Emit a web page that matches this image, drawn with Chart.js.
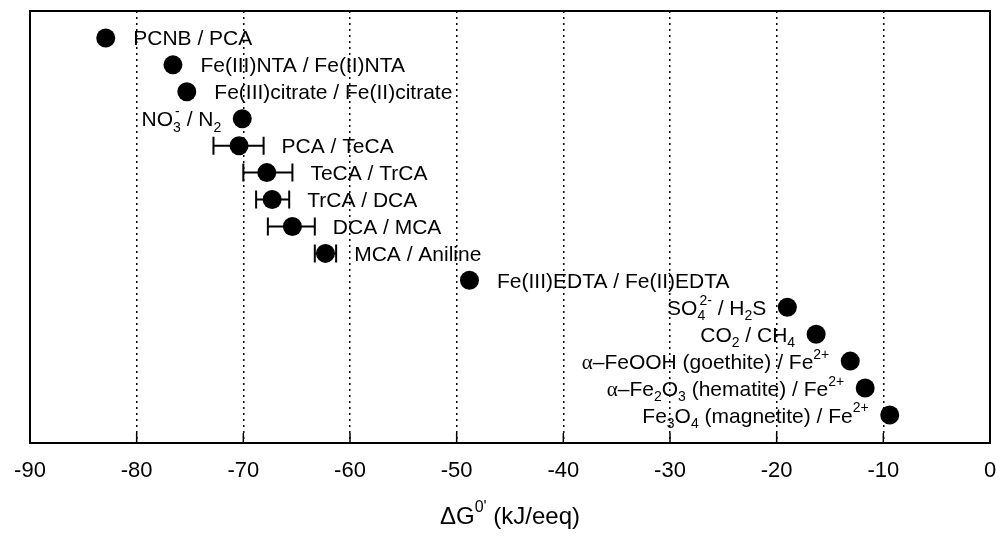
<!DOCTYPE html>
<html>
<head>
<meta charset="utf-8">
<script src="https://cdn.jsdelivr.net/npm/chart.js@4.4.1/dist/chart.umd.min.js"></script>
<style>
  html, body { margin: 0; padding: 0; background: #fff; }
  #wrap { width: 1000px; height: 538px; }
</style>
</head>
<body>
<div id="wrap"><canvas id="gibbsChart"></canvas></div>
<script>
// couples, in order from top to bottom
const coupleLabels = [
    "PCNB / PCA",
    "Fe(III)NTA / Fe(II)NTA",
    "Fe(III)citrate / Fe(II)citrate",
    "NO_{3}^{-} / N_{2}",
    "PCA / TeCA",
    "TeCA / TrCA",
    "TrCA / DCA",
    "DCA / MCA",
    "MCA / Aniline",
    "Fe(III)EDTA / Fe(II)EDTA",
    "SO_{4}^{2-} / H_{2}S",
    "CO_{2} / CH_{4}",
    "α–FeOOH (goethite) / Fe^{2+}",
    "α–Fe_{2}O_{3} (hematite) / Fe^{2+}",
    "Fe_{3}O_{4} (magnetite) / Fe^{2+}"
];
// deltaG0' in kJ per electron equivalent
const deltaG = [-82.9, -76.6, -75.3, -70.1, -70.4, -67.8, -67.3, -65.4, -62.3, -48.8, -19.0, -16.3, -13.1, -11.7, -9.4];
// error bar ends (null = no error bar)
const errLow  = [null, null, null, null, -72.8, -70.0, -68.8, -67.7, -63.3, null, null, null, null, null, null];
const errHigh = [null, null, null, null, -68.1, -65.4, -65.7, -63.3, -61.3, null, null, null, null, null, null];
// which side the label sits on
const labelSide = ["r", "r", "r", "l", "r", "r", "r", "r", "r", "r", "l", "l", "l", "l", "l"];
const xTicks = [-90, -80, -70, -60, -50, -40, -30, -20, -10, 0];

const SANS = '"Liberation Sans", Arial, sans-serif';
const SERIF = '"Liberation Serif", "Times New Roman", serif';
const BASE = 21, SMALL = 14;

// split "NO_{3}^{-}" style markup into segments
function parseRich(text) {
    const segs = [];
    let i = 0, buf = "";
    while (i < text.length) {
        const c = text[i];
        if ((c === "_" || c === "^") && text[i + 1] === "{") {
            if (buf) { segs.push({ t: buf, k: "n" }); buf = ""; }
            const end = text.indexOf("}", i);
            segs.push({ t: text.slice(i + 2, end), k: c === "_" ? "sub" : "sup" });
            i = end + 1;
        } else if (c === "α") {
            if (buf) { segs.push({ t: buf, k: "n" }); buf = ""; }
            segs.push({ t: c, k: "greek" });
            i++;
        } else {
            buf += c;
            i++;
        }
    }
    if (buf) segs.push({ t: buf, k: "n" });
    return segs;
}

function segFont(k, size) {
    const small = Math.round(size * SMALL / BASE);
    if (k === "sub" || k === "sup") return small + "px " + SANS;
    if (k === "greek") return size + "px " + SERIF;
    return size + "px " + SANS;
}

// lay out segments; a sup right after a sub is stacked above it
function layoutRich(ctx, segs, size) {
    let x = 0;
    const out = [];
    for (let i = 0; i < segs.length; i++) {
        const s = segs[i];
        ctx.font = segFont(s.k, size);
        const w = ctx.measureText(s.t).width;
        if (s.k === "sup" && i > 0 && segs[i - 1].k === "sub") {
            const prev = out[out.length - 1];
            out.push({ ...s, x: prev.x + 2, w });
            x = prev.x + Math.max(prev.w, w + 2);
        } else {
            out.push({ ...s, x, w });
            x += w;
        }
    }
    return { items: out, width: x };
}

function drawRich(ctx, text, x, yMid, align, size) {
    const lay = layoutRich(ctx, parseRich(text), size);
    const x0 = align === "left" ? x : (align === "right" ? x - lay.width : x - lay.width / 2);
    const base = yMid + size * 0.36;
    ctx.textBaseline = "alphabetic";
    ctx.textAlign = "left";
    ctx.fillStyle = "#000";
    lay.items.forEach(s => {
        ctx.font = segFont(s.k, size);
        let y = base;
        if (s.k === "sub") y = base + size * 0.25;
        if (s.k === "sup") y = base - size * 0.48;
        ctx.fillText(s.t, x0 + s.x, y);
    });
}

const decorPlugin = {
    id: "decor",
    beforeDatasetsDraw(chart) {
        const { ctx, scales: { x, y } } = chart;
        ctx.save();
        ctx.strokeStyle = "#000";
        ctx.lineWidth = 2;
        deltaG.forEach((v, i) => {
            if (errLow[i] === null) return;
            const py = y.getPixelForValue(i);
            const a = x.getPixelForValue(errLow[i]);
            const b = x.getPixelForValue(errHigh[i]);
            ctx.beginPath();
            ctx.moveTo(a, py); ctx.lineTo(b, py);
            ctx.moveTo(a, py - 9); ctx.lineTo(a, py + 9);
            ctx.moveTo(b, py - 9); ctx.lineTo(b, py + 9);
            ctx.stroke();
        });
        ctx.restore();
    },
    afterDatasetsDraw(chart) {
        const { ctx, chartArea: ca, scales: { x, y } } = chart;
        ctx.save();
        // labels
        deltaG.forEach((v, i) => {
            const px = x.getPixelForValue(v);
            const py = y.getPixelForValue(i);
            if (labelSide[i] === "r") {
                let start = px + 9.5;
                if (errHigh[i] !== null) start = Math.max(start, x.getPixelForValue(errHigh[i]));
                drawRich(ctx, coupleLabels[i], start + 18, py, "left", BASE);
            } else {
                drawRich(ctx, coupleLabels[i], px - 21, py, "right", BASE);
            }
        });
        // frame
        ctx.strokeStyle = "#000";
        ctx.lineWidth = 2;
        ctx.strokeRect(ca.left, ca.top, ca.right - ca.left, ca.bottom - ca.top);
        // inward ticks on the bottom axis
        ctx.lineWidth = 1.5;
        xTicks.forEach(t => {
            const px = x.getPixelForValue(t);
            ctx.beginPath();
            ctx.moveTo(px, ca.bottom);
            ctx.lineTo(px, ca.bottom - 10);
            ctx.stroke();
        });
        // axis title
        drawRich(ctx, "ΔG^{0'} (kJ/eeq)", (ca.left + ca.right) / 2, 515, "center", 24);
        ctx.restore();
    }
};

new Chart(document.getElementById("gibbsChart"), {
    type: "scatter",
    data: {
        datasets: [{
            data: deltaG.map((v, i) => ({ x: v, y: i })),
            backgroundColor: "#000",
            borderWidth: 0,
            pointRadius: 9.5,
            pointHoverRadius: 9.5
        }]
    },
    options: {
        responsive: true,
        maintainAspectRatio: false,
        animation: false,
        events: [],
        layout: { padding: { left: 30, right: 10, top: 11, bottom: 0 } },
        plugins: { legend: { display: false }, tooltip: { enabled: false } },
        scales: {
            x: {
                type: "linear",
                position: "bottom",
                min: -90,
                max: 0,
                afterBuildTicks: axis => { axis.ticks = xTicks.map(v => ({ value: v })); },
                afterFit: axis => {
                    axis.height = 95;
                    axis.paddingLeft = 0;
                    axis.paddingRight = 0;
                },
                ticks: {
                    color: "#000",
                    padding: 15,
                    font: { family: SANS, size: 22 }
                },
                grid: { color: "#000", lineWidth: 1.5, drawTicks: false },
                border: { display: false, dash: [2, 4] }
            },
            y: {
                type: "linear",
                display: false,
                reverse: true,
                min: -1.0,
                max: 15.04
            }
        }
    },
    plugins: [decorPlugin]
});
</script>
</body>
</html>
